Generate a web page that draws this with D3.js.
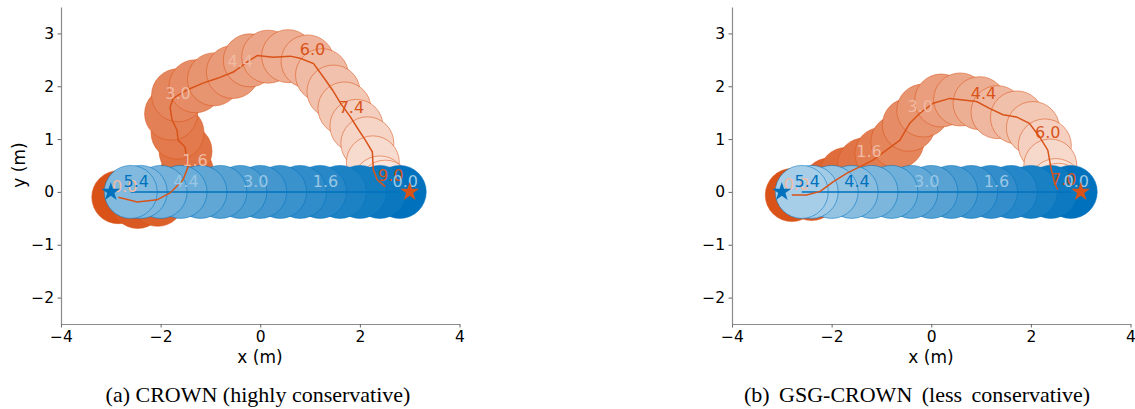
<!DOCTYPE html>
<html>
<head>
<meta charset="utf-8">
<script src="https://cdn.jsdelivr.net/npm/d3@7"></script>
<style>
body { margin: 0; background: #fff; }
svg text { font-family: "DejaVu Sans", sans-serif; }
</style>
</head>
<body>
<div id="chart"></div>
<script>
// ---- data (metres, seconds) ----

// blue robot, same in both runs: footprint every 0.4 s
var blueT = [0, 0.4, 0.8, 1.2, 1.6, 2.0, 2.4, 2.8, 3.2, 3.6, 4.0, 4.4, 4.8, 5.2, 5.4];
var blueX = [2.8, 2.4, 2.0, 1.6, 1.2, 0.8, 0.4, 0.0, -0.4, -0.8, -1.2, -1.6, -2.0, -2.4, -2.6];
var blueY = [0, 0, 0, 0, 0, 0, 0, 0, 0, 0, 0, 0, 0, 0, 0];
var blueLabelT = [0.0, 1.6, 3.0, 4.4, 5.4];
var blueLabelX = [2.91, 1.31, -0.09, -1.49, -2.49];
var blueLabelY = [0.2, 0.2, 0.2, 0.2, 0.2];

// orange robot, CROWN
var crownT = [0, 0.4, 0.8, 1.2, 1.6, 2.0, 2.4, 2.8, 3.2, 3.6, 4.0, 4.4, 4.8, 5.2, 5.6, 6.0, 6.4, 6.8, 7.2, 7.6, 8.0, 8.4, 8.8, 9.0];
var crownX = [-2.85, -2.46, -2.06, -1.72, -1.47, -1.50, -1.66, -1.79, -1.65, -1.30, -0.93, -0.55, -0.21, 0.16, 0.56, 0.95, 1.24, 1.47, 1.69, 1.93, 2.15, 2.26, 2.40, 2.51];
var crownY = [-0.10, -0.19, -0.15, 0.06, 0.38, 0.77, 1.12, 1.48, 1.83, 2.00, 2.13, 2.27, 2.49, 2.56, 2.57, 2.47, 2.21, 1.90, 1.58, 1.25, 0.92, 0.56, 0.18, 0.10];
var crownPathX = [-2.85, -2.47, -2.07, -1.81, -1.55, -1.45, -1.51, -1.65, -1.67, -1.77, -1.81, -1.75, -1.47, -1.15, -0.86, -0.54, -0.26, -0.06, 0.26, 0.60, 0.80, 1.07, 1.27, 1.45, 1.61, 1.81, 1.95, 2.11, 2.25, 2.27, 2.35, 2.51];
var crownPathY = [-0.10, -0.19, -0.15, -0.02, 0.23, 0.47, 0.85, 0.98, 1.17, 1.36, 1.60, 1.77, 1.93, 2.06, 2.15, 2.27, 2.46, 2.58, 2.55, 2.57, 2.53, 2.43, 2.17, 1.93, 1.68, 1.42, 1.21, 0.98, 0.76, 0.42, 0.23, 0.10];
var crownLabelT = [0.0, 1.6, 3.0, 4.4, 6.0, 7.4, 9.0];
var crownLabelX = [-2.72, -1.31, -1.65, -0.40, 1.05, 1.83, 2.62];
var crownLabelY = [0.11, 0.60, 1.87, 2.47, 2.70, 1.60, 0.32];

// orange robot, GSG-CROWN
var gsgT = [0, 0.4, 0.8, 1.2, 1.6, 2.0, 2.4, 2.8, 3.2, 3.6, 4.0, 4.4, 4.8, 5.2, 5.6, 6.0, 6.4, 6.8, 7.0];
var gsgX = [-2.80, -2.40, -2.05, -1.71, -1.35, -1.00, -0.68, -0.45, -0.16, 0.20, 0.58, 0.97, 1.33, 1.72, 2.04, 2.28, 2.39, 2.50, 2.55];
var gsgY = [-0.06, -0.04, 0.14, 0.34, 0.52, 0.72, 0.95, 1.27, 1.54, 1.73, 1.75, 1.68, 1.51, 1.41, 1.21, 0.88, 0.50, 0.13, 0.04];
var gsgPathX = [-2.80, -2.50, -2.23, -1.97, -1.70, -1.43, -1.17, -0.90, -0.63, -0.53, -0.43, -0.23, 0.04, 0.37, 0.64, 0.91, 1.17, 1.44, 1.71, 1.97, 2.17, 2.34, 2.41, 2.48, 2.54];
var gsgPathY = [-0.06, -0.06, 0.01, 0.19, 0.35, 0.48, 0.60, 0.79, 0.98, 1.14, 1.30, 1.49, 1.68, 1.77, 1.74, 1.71, 1.58, 1.46, 1.42, 1.30, 1.05, 0.79, 0.42, 0.16, 0.04];
var gsgLabelT = [0.0, 1.6, 3.0, 4.4, 6.0, 7.0];
var gsgLabelX = [-2.70, -1.25, -0.22, 1.05, 2.34, 2.66];
var gsgLabelY = [0.14, 0.76, 1.61, 1.87, 1.12, 0.23];

// goals
var blueGoal = [-3, 0];
var orangeGoal = [3, 0];

var xTicks = [-4, -2, 0, 2, 4];
var yTicks = [-2, -1, 0, 1, 2, 3];
var captions = ["(a) CROWN (highly conservative)", "(b) GSG-CROWN (less conservative)"];

// ---- drawing ----
var blue = "#0072BD", orange = "#D95319";
var width = 1135, height = 409;

var svg = d3.select("#chart")
    .append("svg")
    .attr("width", width)
    .attr("height", height);

function pts(ts, xs, ys) {
    return ts.map(function(t, i) { return { t: t, x: xs[i], y: ys[i] }; });
}

function drawPanel(p) {
    var x = d3.scaleLinear().domain([-4, 4]).range([p.left, p.left + 398.5]);
    var y = d3.scaleLinear().domain([-2.5, 3.5]).range([324, 7]);
    var tEnd = Math.max(d3.max(p.orange, d => d.t), d3.max(p.blue, d => d.t));
    var shade = function(base, t) { return d3.interpolateRgb(base, "#fff")(0.85 * t / tEnd); };
    var g = svg.append("g");

    var xAxis = g.append("g")
        .attr("transform", "translate(0,324)")
        .call(d3.axisBottom(x).tickValues(xTicks).tickSize(3.5).tickSizeOuter(0).tickPadding(3).tickFormat(d3.format("d")));
    var yAxis = g.append("g")
        .attr("transform", "translate(" + p.left + ",0)")
        .call(d3.axisLeft(y).tickValues(yTicks).tickSize(3.5).tickSizeOuter(0).tickPadding(3.5).tickFormat(d3.format("d")));
    [xAxis, yAxis].forEach(function(a) {
        a.select(".domain").attr("stroke", "#8c8c8c").attr("stroke-width", 1.2);
        a.selectAll(".tick line").attr("stroke", "#666");
        a.selectAll(".tick text").attr("fill", "#000").style("font-size", "15.5px").style("font-family", "DejaVu Sans");
    });

    // footprints: orange first, blue over it, later steps on top
    [[p.orange, orange], [p.blue, blue]].forEach(function(s) {
        g.append("g").selectAll("circle")
            .data(s[0])
            .enter()
            .append("circle")
            .attr("cx", d => x(d.x))
            .attr("cy", d => y(d.y))
            .attr("r", 26.5)
            .attr("fill", d => shade(s[1], d.t))
            .attr("stroke", s[1])
            .attr("stroke-opacity", 0.6)
            .attr("stroke-width", 0.9);
    });

    var line = d3.line().x(d => x(d.x)).y(d => y(d.y));
    g.append("path")
        .datum(p.blue)
        .attr("d", line)
        .attr("fill", "none")
        .attr("stroke", blue)
        .attr("stroke-width", 1.5);
    g.append("path")
        .datum(p.orangePath)
        .attr("d", line)
        .attr("fill", "none")
        .attr("stroke", orange)
        .attr("stroke-width", 1.5);

    // time stamps: light text on dark discs, dark text on faded ones
    [[p.orangeLabels, orange], [p.blueLabels, blue]].forEach(function(s) {
        g.append("g").selectAll("text")
            .data(s[0])
            .enter()
            .append("text")
            .attr("x", d => x(d.x))
            .attr("y", d => y(d.y))
            .attr("text-anchor", "middle")
            .attr("dominant-baseline", "central")
            .style("font-size", "16px")
            .attr("fill", d => d.t / tEnd > 0.55 ? s[1] : d3.interpolateRgb(s[1], "#fff")(0.6))
            .text(d => d3.format(".1f")(d.t));
    });

    var star = d3.symbol().type(d3.symbolStar).size(110);
    g.append("path")
        .attr("d", star)
        .attr("transform", "translate(" + x(blueGoal[0]) + "," + y(blueGoal[1]) + ")")
        .attr("fill", blue);
    g.append("path")
        .attr("d", star)
        .attr("transform", "translate(" + x(orangeGoal[0]) + "," + y(orangeGoal[1]) + ")")
        .attr("fill", orange);

    g.append("text")
        .attr("x", p.left + 199)
        .attr("y", 363)
        .attr("text-anchor", "middle")
        .style("font-size", "17px")
        .text("x (m)");
    if (p.ylabel) {
        g.append("text")
            .attr("transform", "translate(25,165)rotate(-90)")
            .attr("text-anchor", "middle")
            .style("font-size", "17px")
            .text("y (m)");
    }
    g.append("text")
        .attr("x", p.capX)
        .attr("y", 402)
        .attr("text-anchor", "middle")
        .style("font-family", "Liberation Serif")
        .style("font-size", "22px")
        .style("word-spacing", p.wordSpacing)
        .text(p.caption);
}

drawPanel({
    left: 61, ylabel: true, capX: 258, caption: captions[0], wordSpacing: "0px",
    blue: pts(blueT, blueX, blueY),
    blueLabels: pts(blueLabelT, blueLabelX, blueLabelY),
    orange: pts(crownT, crownX, crownY),
    orangePath: pts(crownPathX, crownPathX, crownPathY),
    orangeLabels: pts(crownLabelT, crownLabelX, crownLabelY)
});
drawPanel({
    left: 732, ylabel: false, capX: 917, caption: captions[1], wordSpacing: "4px",
    blue: pts(blueT, blueX, blueY),
    blueLabels: pts(blueLabelT, blueLabelX, blueLabelY),
    orange: pts(gsgT, gsgX, gsgY),
    orangePath: pts(gsgPathX, gsgPathX, gsgPathY),
    orangeLabels: pts(gsgLabelT, gsgLabelX, gsgLabelY)
});
</script>
</body>
</html>
